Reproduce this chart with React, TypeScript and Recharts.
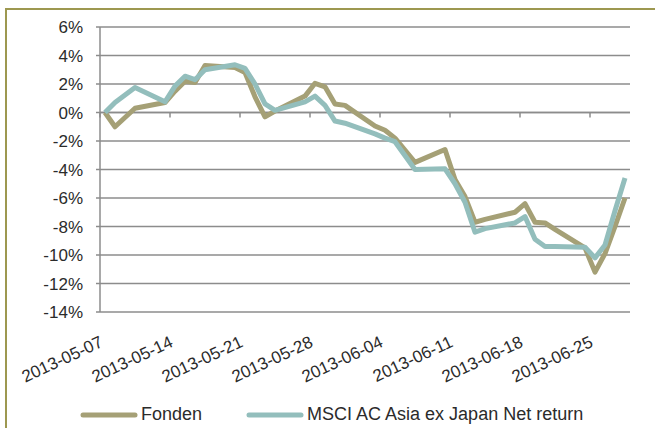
import { CartesianGrid, Legend, Line, LineChart, ReferenceLine, XAxis, YAxis } from 'recharts';

const dates = [
  '2013-05-07', '2013-05-08', '2013-05-10', '2013-05-13', '2013-05-14', '2013-05-15', '2013-05-16',
  '2013-05-17', '2013-05-20', '2013-05-21', '2013-05-22', '2013-05-23', '2013-05-24', '2013-05-27',
  '2013-05-28', '2013-05-29', '2013-05-30', '2013-05-31', '2013-06-03', '2013-06-04', '2013-06-05',
  '2013-06-07', '2013-06-10', '2013-06-11', '2013-06-12', '2013-06-13', '2013-06-14', '2013-06-17',
  '2013-06-18', '2013-06-19', '2013-06-20', '2013-06-21', '2013-06-24', '2013-06-25', '2013-06-26',
  '2013-06-27', '2013-06-28',
];

const fonden = [
  0, -1.0, 0.3, 0.7, 1.5, 2.2, 2.1, 3.3, 3.15, 2.8, 1.1, -0.3, 0.1, 1.15, 2.05, 1.8, 0.6, 0.5, -0.95,
  -1.25, -1.8, -3.5, -2.6, -4.7, -5.9, -7.7, -7.5, -7.0, -6.4, -7.7, -7.75, -8.2, -9.5, -11.2, -9.9,
  -8.0, -6.0,
];

const msci = [
  0, 0.7, 1.75, 0.75, 1.85, 2.55, 2.3, 3.0, 3.35, 3.1, 2.0, 0.6, 0.15, 0.75, 1.15, 0.5, -0.6, -0.75,
  -1.5, -1.8, -2.05, -4.0, -3.95, -5.0, -6.3, -8.4, -8.15, -7.75, -7.3, -8.9, -9.4, -9.4, -9.45, -10.2,
  -9.3, -6.9, -4.6,
];

const tickDates = [
  '2013-05-07', '2013-05-14', '2013-05-21', '2013-05-28', '2013-06-04', '2013-06-11', '2013-06-18',
  '2013-06-25',
];

const yTicks = [-14, -12, -10, -8, -6, -4, -2, 0, 2, 4, 6];

const seriesNames = ['Fonden', 'MSCI AC Asia ex Japan Net return'];
const colors = ['#a5a076', '#93bebc'];

const dayMs = 86400000;
const dayOf = (d: string) => (Date.parse(d) - Date.parse(dates[0])) / dayMs;

const data = dates.map((d, i) => ({ day: dayOf(d), fonden: fonden[i], msci: msci[i] }));
const xTicks = tickDates.map((d) => dayOf(d) - 0.5);

const font = '"Liberation Sans", Arial, sans-serif';
const gridColor = '#8c8c8c';

function DateTick({ x, y, payload }: any) {
  const label = tickDates[xTicks.indexOf(payload.value)] ?? '';
  const ax = x + 4;
  const ay = y + 26;
  return (
    <text
      x={ax}
      y={ay}
      transform={`rotate(-25, ${ax}, ${ay})`}
      textAnchor="end"
      fontSize={17}
      fontFamily={font}
      fill="#2b2b2b"
    >
      {label}
    </text>
  );
}

function LegendContent() {
  return (
    <div style={{ display: 'flex', alignItems: 'center', fontFamily: font, fontSize: 18, color: '#2b2b2b' }}>
      {seriesNames.map((name, i) => (
        <div key={name} style={{ display: 'flex', alignItems: 'center', marginRight: 44 }}>
          <svg width={58} height={8} style={{ marginRight: 3 }}>
            <line x1={3} y1={4} x2={55} y2={4} stroke={colors[i]} strokeWidth={5} strokeLinecap="round" />
          </svg>
          <span>{name}</span>
        </div>
      ))}
    </div>
  );
}

export default function App() {
  return (
    <div style={{ position: 'absolute', left: 0, top: 0, width: 655, height: 428, overflow: 'hidden', background: '#fff' }}>
      <div
        style={{
          position: 'absolute',
          left: 5,
          top: 8,
          width: 700,
          height: 500,
          border: '2px solid #9d9850',
        }}
      />
      <div style={{ position: 'absolute', left: 0, top: 0 }}>
        <LineChart width={655} height={428} data={data} margin={{ top: 27, right: 25, bottom: 32, left: 0 }}>
          <CartesianGrid horizontal vertical={false} stroke={gridColor} strokeWidth={1.5} />
          <XAxis
            dataKey="day"
            type="number"
            domain={[-0.5, 52.5]}
            ticks={xTicks}
            interval={0}
            tick={<DateTick />}
            axisLine={false}
            tickLine={false}
            height={60}
          />
          <YAxis
            domain={[-14, 6]}
            ticks={yTicks}
            interval={0}
            width={100}
            tickFormatter={(v) => `${v}%`}
            axisLine={{ stroke: gridColor, strokeWidth: 1.5 }}
            tickLine={{ stroke: gridColor, strokeWidth: 1.5 }}
            tickSize={4}
            tickMargin={13}
            tick={{ fontSize: 17, fontFamily: font, fill: '#2b2b2b' }}
          />
          <ReferenceLine y={0} stroke={gridColor} strokeWidth={1.5} />
          {xTicks.map((t) => (
            <ReferenceLine
              key={t}
              segment={[{ x: t, y: 0 }, { x: t, y: -0.35 }]}
              stroke={gridColor}
              strokeWidth={1.5}
            />
          ))}
          <Line
            type="linear"
            dataKey="fonden"
            name={seriesNames[0]}
            stroke={colors[0]}
            strokeWidth={5}
            strokeLinejoin="round"
            dot={false}
            isAnimationActive={false}
          />
          <Line
            type="linear"
            dataKey="msci"
            name={seriesNames[1]}
            stroke={colors[1]}
            strokeWidth={5}
            strokeLinejoin="round"
            dot={false}
            isAnimationActive={false}
          />
          <Legend
            content={<LegendContent />}
            wrapperStyle={{ position: 'absolute', left: 80, top: 404, width: 575, height: 24 }}
          />
        </LineChart>
      </div>
    </div>
  );
}
